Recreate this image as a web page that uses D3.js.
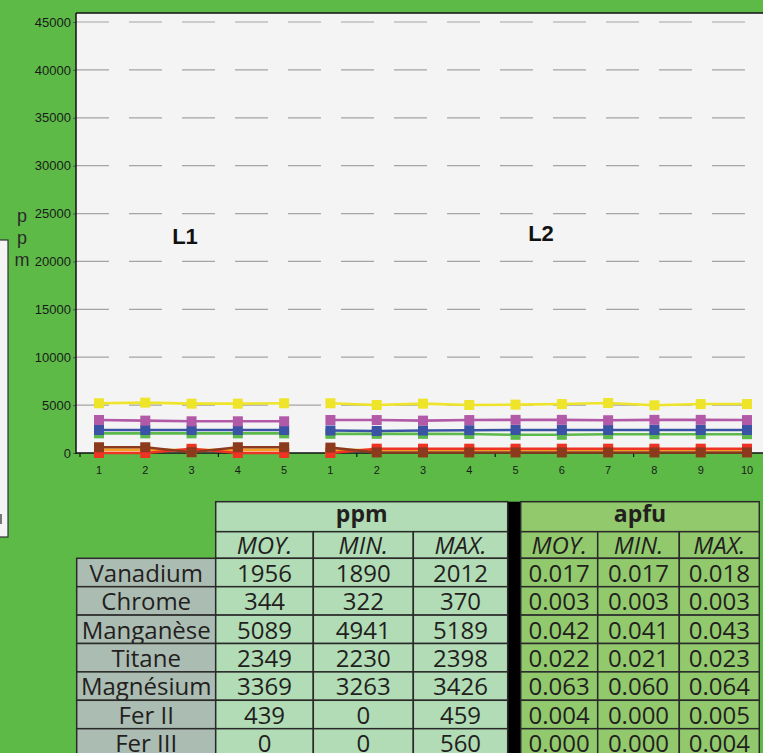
<!DOCTYPE html>
<html><head><meta charset="utf-8">
<script src="https://cdn.jsdelivr.net/npm/d3@7"></script>
<style>html,body{margin:0;padding:0;background:#5dba47;overflow:hidden}</style>
</head><body>
<script>
// ---------- DATA ----------
const l1Labels = ["1","2","3","4","5"];
const l2Labels = ["1","2","3","4","5","6","7","8","9","10"];
const yTicks = [0,5000,10000,15000,20000,25000,30000,35000,40000,45000];

const vanadiumL1 = [2050,2050,2050,2050,2050];
const vanadiumL2 = [2000,2000,2000,1980,1900,1900,1960,1960,1960,1960];
const titaneL1 = [2400,2400,2400,2400,2400];
const titaneL2 = [2350,2300,2350,2380,2400,2400,2400,2400,2400,2400];
const magnesiumL1 = [3445,3380,3310,3310,3310];
const magnesiumL2 = [3445,3440,3380,3440,3460,3460,3420,3460,3460,3440];
const manganeseL1 = [5190,5260,5150,5150,5190];
const manganeseL2 = [5190,5010,5150,5010,5050,5110,5220,4980,5110,5110];
const chromeL1 = [330,330,300,330,330];
const chromeL2 = [330,300,300,300,300,300,300,300,300,300];
const ferIIL1 = [0,0,440,0,0];
const ferIIL2 = [0,450,450,450,450,450,450,450,450,450];
const ferIIIL1 = [600,600,80,600,600];
const ferIIIL2 = [560,60,60,60,60,60,60,60,60,60];

const elements = ["Vanadium","Chrome","Manganèse","Titane","Magnésium","Fer II","Fer III"];
const ppmMoy = ["1956","344","5089","2349","3369","439","0"];
const ppmMin = ["1890","322","4941","2230","3263","0","0"];
const ppmMax = ["2012","370","5189","2398","3426","459","560"];
const apfuMoy = ["0.017","0.003","0.042","0.022","0.063","0.004","0.000"];
const apfuMin = ["0.017","0.003","0.041","0.021","0.060","0.000","0.000"];
const apfuMax = ["0.018","0.003","0.043","0.023","0.064","0.005","0.004"];
const statHeaders = ["MOY.","MIN.","MAX."];

const series = [
  {name:"Vanadium", color:"#5cb94b", l1:vanadiumL1, l2:vanadiumL2},
  {name:"Titane", color:"#3a53a4", l1:titaneL1, l2:titaneL2},
  {name:"Magnésium", color:"#b25aa8", l1:magnesiumL1, l2:magnesiumL2},
  {name:"Manganèse", color:"#eee42a", l1:manganeseL1, l2:manganeseL2},
  {name:"Chrome", color:"#f6a01e", l1:chromeL1, l2:chromeL2},
  {name:"Fer II", color:"#ee3325", l1:ferIIL1, l2:ferIIL2},
  {name:"Fer III", color:"#8c3a1e", l1:ferIIIL1, l2:ferIIIL2}
];

// ---------- LAYOUT ----------
const W = 763, H = 753;
const svg = d3.select("body").append("svg").attr("width",W).attr("height",H);
svg.append("rect").attr("width",W).attr("height",H).attr("fill","#5dba47");

// left partial box
svg.append("rect").attr("x",-3).attr("y",240).attr("width",11).attr("height",297)
  .attr("fill","#f4f4f4").attr("stroke","#333").attr("stroke-width",1.2);
svg.append("rect").attr("x",0).attr("y",514).attr("width",2).attr("height",10).attr("fill","#777");

const plotL = 76, plotT = 13, plotB = 453;
const y = d3.scaleLinear().domain([0,45000]).range([plotB,22]);
const nPts = l1Labels.length + l2Labels.length;
const x = d3.scaleLinear().domain([0,nPts-1]).range([99,747]);

svg.append("rect").attr("x",plotL).attr("y",plotT).attr("width",W-plotL+5).attr("height",plotB-plotT)
  .attr("fill","#f4f4f4");

// grid
svg.append("g").selectAll("line").data(yTicks.filter(d=>d>0)).join("line")
  .attr("x1",plotL).attr("x2",W).attr("y1",d=>y(d)).attr("y2",d=>y(d))
  .attr("stroke","#a4a4a4").attr("stroke-width",1.2).attr("stroke-dasharray","33,20");

// y axis
const ya = svg.append("g").attr("transform",`translate(${plotL},0)`)
  .call(d3.axisLeft(y).tickValues(yTicks).tickSize(3).tickPadding(2).tickFormat(d3.format("d")));
ya.select(".domain").remove();
ya.selectAll("text").attr("font-family","Liberation Sans, Arial, sans-serif").attr("font-size",13).attr("fill","#1a1a1a");
ya.selectAll("line").attr("stroke","#555");

// frame
svg.append("line").attr("x1",plotL).attr("x2",W).attr("y1",plotT).attr("y2",plotT).attr("stroke","#111").attr("stroke-width",1.5);
svg.append("line").attr("x1",plotL).attr("x2",plotL).attr("y1",plotT).attr("y2",plotB+1).attr("stroke","#111").attr("stroke-width",1.5);
svg.append("line").attr("x1",plotL).attr("x2",W).attr("y1",plotB).attr("y2",plotB).attr("stroke","#111").attr("stroke-width",1.5);

// x minor ticks
const xt = d3.scaleLinear().domain([0,10]).range([80,772]);
svg.append("g").selectAll("line").data(d3.range(0,11)).join("line")
  .attr("x1",d=>xt(d)).attr("x2",d=>xt(d)).attr("y1",plotB).attr("y2",plotB+4)
  .attr("stroke","#111").attr("stroke-width",1.2);

// x labels
const allLabels = l1Labels.concat(l2Labels);
svg.append("g").selectAll("text").data(allLabels).join("text")
  .attr("x",(d,i)=>x(i)).attr("y",474).attr("text-anchor","middle")
  .attr("font-family","Liberation Sans, Arial, sans-serif").attr("font-size",11).attr("fill","#1a1a1a")
  .text(d=>d);

// ppm label
["p","p","m"].forEach((c,i)=>{
  svg.append("text").attr("x",22).attr("y",221.5+i*22).attr("text-anchor","middle")
    .attr("font-family","Liberation Sans, Arial, sans-serif").attr("font-size",18).attr("fill","#2a2a2a").text(c);
});

// L1/L2 labels
svg.append("text").attr("x",185).attr("y",244).attr("text-anchor","middle")
  .attr("font-family","Liberation Sans, Arial, sans-serif").attr("font-weight","bold").attr("font-size",22).attr("fill","#111").text("L1");
svg.append("text").attr("x",541).attr("y",241).attr("text-anchor","middle")
  .attr("font-family","Liberation Sans, Arial, sans-serif").attr("font-weight","bold").attr("font-size",22).attr("fill","#111").text("L2");

// lines
const line = d3.line().x(d=>x(d.i)).y(d=>y(d.v));
const gl = svg.append("g");
series.forEach(s=>{
  const p1 = s.l1.map((v,i)=>({i:i, v:v}));
  const p2 = s.l2.map((v,i)=>({i:i+s.l1.length, v:v}));
  [p1,p2].forEach(pts=>{
    gl.append("path").datum(pts).attr("d",line).attr("fill","none")
      .attr("stroke",s.color).attr("stroke-width",2.6);
    gl.append("g").selectAll("rect").data(pts).join("rect")
      .attr("x",d=>x(d.i)-5).attr("y",d=>y(d.v)-5).attr("width",10).attr("height",10)
      .attr("fill",s.color);
  });
});

// ---------- TABLE ----------
const tFont = "'Open Sans', 'Noto Sans', sans-serif";
const tg = svg.append("g");
const ppmEdges = [215.7,313.3,413.3,507.7];
const apfuEdges = [520.7,597.7,679.3,759.3];
const labX = [76.7,215.7];
const h1 = [501.7,531.7], h2 = [531.7,558.3];
const row0 = 558.3, rowH = 28.4;
const ppmBg = "#b1dcb5", apfuBg = "#92c96d", labBg = "#abbcb3", bd = "#2a2a2a";
function cell(x0,x1,y0,y1,fill){
  tg.append("rect").attr("x",x0).attr("y",y0).attr("width",x1-x0).attr("height",y1-y0)
    .attr("fill",fill).attr("stroke",bd).attr("stroke-width",1.5);
}
function txt(x0,x1,yb,t,opts={}){
  tg.append("text").attr("x",(x0+x1)/2).attr("y",yb).attr("text-anchor","middle")
    .attr("font-family",tFont).attr("font-size",opts.size||24)
    .attr("font-style",opts.italic?"italic":"normal").attr("font-weight",opts.bold?"bold":"normal")
    .attr("fill","#231f20").text(t);
}
// separator
tg.append("rect").attr("x",507.7).attr("y",h1[0]).attr("width",13).attr("height",H-h1[0]+5).attr("fill","#000");
// headers
cell(ppmEdges[0],ppmEdges[3],h1[0],h1[1],ppmBg);
txt(ppmEdges[0],ppmEdges[3],522,"ppm",{bold:true,size:23});
cell(apfuEdges[0],apfuEdges[3],h1[0],h1[1],apfuBg);
txt(apfuEdges[0],apfuEdges[3],522,"apfu",{bold:true,size:23});
statHeaders.forEach((s,j)=>{
  cell(ppmEdges[j],ppmEdges[j+1],h2[0],h2[1],ppmBg);
  txt(ppmEdges[j],ppmEdges[j+1],h2[1]-4,s,{italic:true});
  cell(apfuEdges[j],apfuEdges[j+1],h2[0],h2[1],apfuBg);
  txt(apfuEdges[j],apfuEdges[j+1],h2[1]-4,s,{italic:true});
});
const ppmCols = [ppmMoy,ppmMin,ppmMax], apfuCols = [apfuMoy,apfuMin,apfuMax];
elements.forEach((e,r)=>{
  const y0 = row0 + r*rowH, y1 = y0 + rowH;
  cell(labX[0],labX[1],y0,y1,labBg);
  txt(labX[0],labX[1],y1-5,e);
  for(let j=0;j<3;j++){
    cell(ppmEdges[j],ppmEdges[j+1],y0,y1,ppmBg);
    txt(ppmEdges[j],ppmEdges[j+1],y1-5,ppmCols[j][r]);
    cell(apfuEdges[j],apfuEdges[j+1],y0,y1,apfuBg);
    txt(apfuEdges[j],apfuEdges[j+1],y1-5,apfuCols[j][r]);
  }
});
</script>
</body></html>
